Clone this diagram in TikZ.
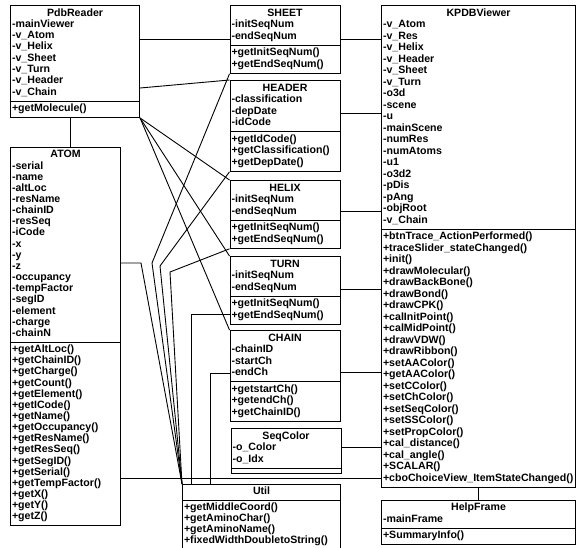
\documentclass[tikz,border=0pt]{standalone}
\usepackage{fontspec}
\setmainfont{Liberation Sans}
\usetikzlibrary{positioning,shapes.multipart}
\newcommand{\clsfont}[1][11.5]{\fontsize{10.6}{#1}\selectfont\bfseries}
\newcommand{\ctitle}[1]{\makebox[\hsize][c]{\strut #1}}
\tikzset{
  cls/.style={draw,line width=1.1pt,rectangle split,rectangle split parts=2,
              anchor=north west,inner xsep=1.5pt,inner ysep=2pt,align=left,
              font=\clsfont,text width=#1},
  ln/.style={line width=0.9pt},
}

\begin{document}
\begin{tikzpicture}[x=1pt,y=-1pt]

\fill[white] (0,0) rectangle (576,547);
\useasboundingbox (0,0) rectangle (576,547);

% classes on the left
\node[cls=126pt,font={\clsfont[11.3]}] (pdb) at (10,5)
  {\ctitle{PdbReader}\\ -mainViewer\\ -v\_Atom\\ -v\_Helix\\ -v\_Sheet\\
   -v\_Turn\\ -v\_Header\\ -v\_Chain\strut
   \nodepart{two}\strut+getMolecule()\strut};

\node[cls=107pt,font={\clsfont[11.15]}] (atom) at (10,147)
  {\ctitle{ATOM}\\ -serial\\ -name\\ -altLoc\\ -resName\\ -chainID\\ -resSeq\\
   -iCode\\ -x\\ -y\\ -z\\ -occupancy\\ -tempFactor\\ -segID\\ -element\\
   -charge\\ -chainN\strut
   \nodepart{two}\strut+getAltLoc()\\ +getChainID()\\ +getCharge()\\ +getCount()\\
   +getElement()\\ +getICode()\\ +getName()\\ +getOccupancy()\\ +getResName()\\
   +getResSeq()\\ +getSegID()\\ +getSerial()\\ +getTempFactor()\\ +getX()\\
   +getY()\\ +getZ()\strut};

% classes in the middle
\node[cls=107pt] (sheet) at (229.5,5)
  {\ctitle{SHEET}\\ -initSeqNum\\ -endSeqNum\strut
   \nodepart{two}\strut+getInitSeqNum()\\ +getEndSeqNum()\strut};

\node[cls=107pt] (header) at (229.5,80)
  {\ctitle{HEADER}\\ -classification\\ -depDate\\ -idCode\strut
   \nodepart{two}\strut+getIdCode()\\ +getClassification()\\ +getDepDate()\strut};

\node[cls=107pt] (helix) at (229.5,180)
  {\ctitle{HELIX}\\ -initSeqNum\\ -endSeqNum\strut
   \nodepart{two}\strut+getInitSeqNum()\\ +getEndSeqNum()\strut};

\node[cls=107pt] (turn) at (229.5,256)
  {\ctitle{TURN}\\ -initSeqNum\\ -endSeqNum\strut
   \nodepart{two}\strut+getInitSeqNum()\\ +getEndSeqNum()\strut};

\node[cls=107pt] (chain) at (229.5,330)
  {\ctitle{CHAIN}\\ -chainID\\ -startCh\\ -endCh\strut
   \nodepart{two}\strut+getstartCh()\\ +getendCh()\\ +getChainID()\strut};

\node[cls=107pt] (seqcolor) at (230.5,428)
  {\ctitle{SeqColor}\\ -o\_Color\\ -o\_Idx\strut
   \nodepart{two}};

\node[cls=155pt,font={\clsfont[11]}] (util) at (182,484)
  {\ctitle{Util}
   \nodepart{two}\strut+getMiddleCoord()\\ +getAminoChar()\\ +getAminoName()\\
   +fixedWidthDoubletoString()\strut};

% classes on the right
\node[cls=191pt] (kpdb) at (381,5)
  {\ctitle{KPDBViewer}\\ -v\_Atom\\ -v\_Res\\ -v\_Helix\\ -v\_Header\\ -v\_Sheet\\
   -v\_Turn\\ -o3d\\ -scene\\ -u\\ -mainScene\\ -numRes\\ -numAtoms\\ -u1\\
   -o3d2\\ -pDis\\ -pAng\\ -objRoot\\ -v\_Chain\strut
   \nodepart{two}\strut+btnTrace\_ActionPerformed()\\ +traceSlider\_stateChanged()\\
   +init()\\ +drawMolecular()\\ +drawBackBone()\\ +drawBond()\\ +drawCPK()\\
   +calInitPoint()\\ +calMidPoint()\\ +drawVDW()\\ +drawRibbon()\\ +setAAColor()\\
   +getAAColor()\\ +setCColor()\\ +setChColor()\\ +setSeqColor()\\ +setSSColor()\\
   +setPropColor()\\ +cal\_distance()\\ +cal\_angle()\\ +SCALAR()\\
   +cboChoiceView\_ItemStateChanged()\strut};

\node[cls=191pt,font={\clsfont[10.5]}] (help) at (381,500)
  {\ctitle{HelpFrame}\\ -mainFrame\strut
   \nodepart{two}\strut+SummaryInfo()\strut};

% PdbReader associations
\draw[ln] (pdb.south -| 70,0) -- (atom.north -| 70,0);
\draw[ln] (pdb.east |- 0,39) -- (sheet.west |- 0,39);
\draw[ln] (pdb.east |- 0,88) -- (header.north west);
\draw[ln] (pdb.south east) -- (helix.north west);
\draw[ln] (pdb.south east) -- (turn.north west);
\draw[ln] (pdb.south east) -- (chain.north west);

% KPDBViewer associations
\draw[ln] (sheet.east |- 0,39) -- (kpdb.west |- 0,39);
\draw[ln] (header.east |- 0,113) -- (kpdb.west |- 0,113);
\draw[ln] (helix.east |- 0,211) -- (kpdb.west |- 0,211);
\draw[ln] (turn.east |- 0,289) -- (kpdb.west |- 0,289);
\draw[ln] (chain.east |- 0,372) -- (kpdb.west |- 0,372);
\draw[ln] (seqcolor.east |- 0,447) -- (kpdb.west |- 0,447);
\draw[ln] (atom.east |- 0,478) -- (kpdb.west |- 0,478);
\draw[ln] (kpdb.south) -- (help.north);

% uses of Util
\draw[ln] (atom.east |- 0,263) -- (141,263) -- (util.north west);
\draw[ln] (sheet.south west) -- (152,263) -- (util.north west);
\draw[ln] (header.south west) -- (160,266) -- (util.north west);
\draw[ln] (helix.south west) -- (170,272) -- (util.north west);
\draw[ln] (turn.west |- 0,314) -- (191,314) -- (191,0 |- util.north);
\draw[ln] (chain.west |- 0,373) -- (210,373) -- (210,0 |- util.north);

\end{tikzpicture}
\end{document}
